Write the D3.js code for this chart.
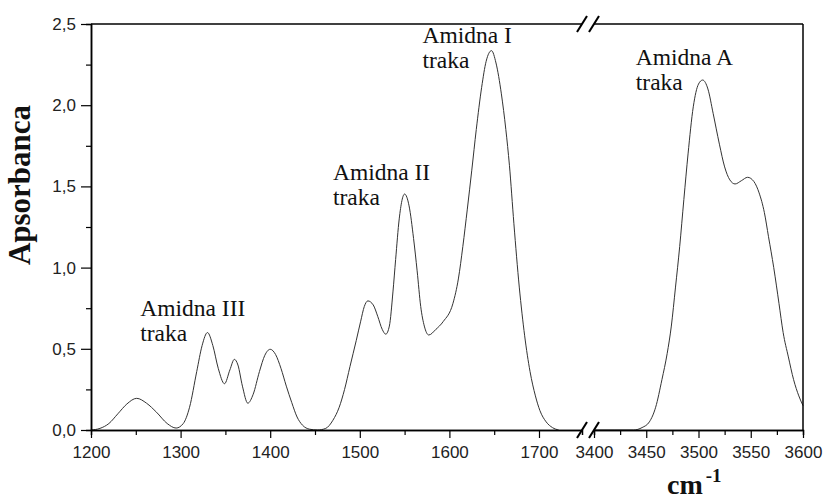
<!DOCTYPE html>
<html>
<head>
<meta charset="utf-8">
<script src="https://cdn.jsdelivr.net/npm/d3@7"></script>
<style>
  body { margin: 0; background: #fff; }
  svg { display: block; }
  .tick text { font-family: "Liberation Sans", Arial, sans-serif; font-size: 17px; fill: #222; }
</style>
</head>
<body>
<svg></svg>
<script>
/* data */
var leftWavenumber = [1200, 1210, 1220, 1230, 1240, 1251, 1262, 1273, 1285, 1295,
  1303, 1310, 1318, 1324, 1330, 1336, 1342, 1349, 1355, 1360, 1364, 1369, 1375,
  1381, 1388, 1394, 1400, 1406, 1412, 1418, 1424, 1430, 1436, 1444, 1453, 1462,
  1470, 1477, 1483, 1489, 1496, 1501, 1505, 1509, 1515, 1520, 1525, 1529, 1533,
  1537, 1540, 1544, 1550, 1555, 1560, 1564, 1568, 1572, 1577, 1585, 1593, 1604,
  1610, 1615, 1620, 1625, 1630, 1636, 1641, 1647, 1652, 1658, 1663, 1667, 1672,
  1678, 1684, 1690, 1696, 1701, 1708, 1715, 1722];
var leftAbsorbance = [0.0, 0.01, 0.04, 0.10, 0.16, 0.195, 0.165, 0.11, 0.04, 0.012,
  0.04, 0.14, 0.36, 0.52, 0.60, 0.52, 0.38, 0.285, 0.37, 0.435, 0.40, 0.27, 0.165,
  0.22, 0.36, 0.46, 0.497, 0.465, 0.38, 0.27, 0.17, 0.08, 0.03, 0.005, 0.0, 0.01,
  0.06, 0.14, 0.25, 0.39, 0.55, 0.67, 0.76, 0.795, 0.77, 0.70, 0.62, 0.59, 0.64,
  0.85, 1.05, 1.30, 1.453, 1.38, 1.18, 0.98, 0.76, 0.64, 0.585, 0.62, 0.667, 0.78,
  0.93, 1.13, 1.36, 1.60, 1.85, 2.11, 2.27, 2.336, 2.26, 2.07, 1.85, 1.63, 1.27,
  0.88, 0.58, 0.36, 0.21, 0.12, 0.05, 0.015, 0.0];

var rightWavenumber = [3400, 3420, 3438, 3446, 3453, 3459, 3465, 3470, 3474, 3478,
  3482, 3486, 3490, 3495, 3500, 3504, 3509, 3514, 3520, 3525, 3530, 3535, 3541,
  3547, 3553, 3558, 3563, 3567, 3572, 3577, 3581, 3586, 3591, 3596, 3600];
var rightAbsorbance = [0.0, 0.0, 0.0, 0.015, 0.05, 0.14, 0.31, 0.47, 0.64, 0.88,
  1.13, 1.42, 1.70, 1.99, 2.13, 2.155, 2.10, 1.95, 1.76, 1.62, 1.54, 1.515, 1.535,
  1.556, 1.53, 1.46, 1.34, 1.19, 1.00, 0.78, 0.60, 0.45, 0.31, 0.21, 0.15];

var leftTicks = [1200, 1300, 1400, 1500, 1600, 1700];
var leftMinor = [1250, 1350, 1450, 1550, 1650];
var rightTicks = [3400, 3450, 3500, 3550, 3600];
var rightMinor = [3425, 3475, 3525, 3575];
var yTicks = [0, 0.5, 1.0, 1.5, 2.0, 2.5];
var yMinor = [0.25, 0.75, 1.25, 1.75, 2.25];

var noteText = [["Amidna III", "traka"], ["Amidna II", "traka"], ["Amidna I", "traka"], ["Amidna A", "traka"]];
var noteX = [1255, 1470, 1570, 3440];
var noteY = [0.70, 1.54, 2.38, 2.25];

/* layout */
var svgWidth = 823, svgHeight = 500;
var plotLeft = 91, plotTop = 24, plotRight = 803, plotBottom = 430;
var breakL = 582, breakR = 594;

var svg = d3.select("svg")
    .attr("width", svgWidth)
    .attr("height", svgHeight);

var x1 = d3.scaleLinear().domain([1200, 1748]).range([plotLeft, breakL]);
var x2 = d3.scaleLinear().domain([3400, 3600]).range([breakR, plotRight]);
var y = d3.scaleLinear().domain([0, 2.5]).range([plotBottom, plotTop]);

function fmt(d) { return d3.format(".1f")(d).replace(".", ","); }

/* curves */
var line1 = d3.line()
    .x(function(d, i){ return x1(leftWavenumber[i]); })
    .y(function(d){ return y(d); })
    .curve(d3.curveMonotoneX);
var line2 = d3.line()
    .x(function(d, i){ return x2(rightWavenumber[i]); })
    .y(function(d){ return y(d); })
    .curve(d3.curveMonotoneX);

svg.append("path").datum(leftAbsorbance)
    .attr("d", line1)
    .attr("fill", "none").attr("stroke", "#333").attr("stroke-width", 1);
svg.append("path").datum(rightAbsorbance)
    .attr("d", line2)
    .attr("fill", "none").attr("stroke", "#333").attr("stroke-width", 1);

/* axes */
function addAxis(axis, tx, ty) {
  var g = svg.append("g")
      .attr("transform", translate(tx, ty))
      .call(axis);
  g.select(".domain").attr("stroke", "#000").attr("stroke-width", 1.5);
  g.selectAll(".tick line").attr("stroke", "#000").attr("stroke-width", 1.2);
  return g;
}

addAxis(d3.axisBottom(x1).tickValues(leftMinor).tickSize(5).tickFormat(""), 0, plotBottom);
addAxis(d3.axisBottom(x2).tickValues(rightMinor).tickSize(5).tickFormat(""), 0, plotBottom);
addAxis(d3.axisBottom(x1).tickValues(leftTicks).tickSize(8).tickSizeOuter(0).tickPadding(8).tickFormat(d3.format("d")), 0, plotBottom);
addAxis(d3.axisBottom(x2).tickValues(rightTicks).tickSize(8).tickSizeOuter(0).tickPadding(8).tickFormat(d3.format("d")), 0, plotBottom);
addAxis(d3.axisLeft(y).tickValues(yMinor).tickSize(5).tickFormat(""), plotLeft, 0);
addAxis(d3.axisLeft(y).tickValues(yTicks).tickSize(10).tickSizeOuter(0).tickPadding(5).tickFormat(fmt), plotLeft, 0);

/* frame: top and right */
var frame = svg.append("g").attr("stroke", "#000").attr("stroke-width", 1.5).attr("fill", "none");
frame.append("line").attr("x1", plotLeft).attr("x2", breakL).attr("y1", plotTop).attr("y2", plotTop);
frame.append("line").attr("x1", breakR).attr("x2", plotRight).attr("y1", plotTop).attr("y2", plotTop);
frame.append("line").attr("x1", plotRight).attr("x2", plotRight).attr("y1", plotTop).attr("y2", plotBottom);

/* axis break marks */
[plotTop, plotBottom].forEach(function(yy){
  [breakL, breakR].forEach(function(xx){
    frame.append("line")
        .attr("x1", xx - 5).attr("y1", yy + 8)
        .attr("x2", xx + 5).attr("y2", yy - 8)
        .attr("stroke-width", 2);
  });
});

/* band labels */
noteText.forEach(function(lines, k){
  var sx = noteX[k] < 2000 ? x1(noteX[k]) : x2(noteX[k]);
  var t = svg.append("text")
      .attr("x", sx).attr("y", y(noteY[k]))
      .attr("font-family", "'Liberation Serif', 'Times New Roman', serif")
      .attr("font-size", 23.5)
      .attr("fill", "#111");
  lines.forEach(function(s, i){
    t.append("tspan").attr("x", sx).attr("dy", i === 0 ? 0 : 25).text(s);
  });
});

/* axis titles */
svg.append("text")
    .attr("transform", translate(30, 185) + " rotate(-90)")
    .attr("text-anchor", "middle")
    .attr("font-family", "'Liberation Serif', 'Times New Roman', serif")
    .attr("font-weight", "bold")
    .attr("font-size", 31)
    .attr("fill", "#111")
    .text("Apsorbanca");

var xt = svg.append("text")
    .attr("x", 667).attr("y", 494)
    .attr("font-family", "'Liberation Serif', 'Times New Roman', serif")
    .attr("font-weight", "bold")
    .attr("font-size", 28)
    .attr("fill", "#111");
xt.append("tspan").text("cm");
xt.append("tspan").attr("dy", -12).attr("dx", 3).attr("font-size", 19).text("-1");

function translate(x, y) {
  return "translate(" + x + "," + y + ")";
}
</script>
</body>
</html>
